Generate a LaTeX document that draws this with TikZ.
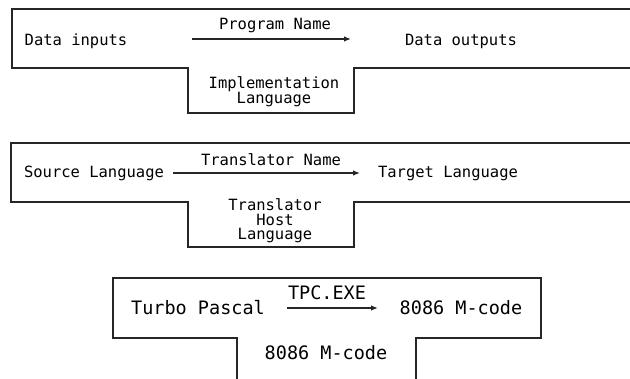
\documentclass[tikz,border=0pt]{standalone}
\usepackage{fontspec}
\newfontfamily\pixmono{DejaVu Sans Mono}
\usetikzlibrary{arrows.meta}
\begin{document}
\begin{tikzpicture}[x=1pt,y=-1pt,
  outline/.style={draw=black!85, line width=1.3pt, line join=miter},
  lbl/.style={font=\pixmono\fontsize{15.5}{14.5}\selectfont, inner sep=0pt, align=center, anchor=base},
  lblbig/.style={font=\pixmono\fontsize{18.5}{16}\selectfont, inner sep=0pt, align=center, anchor=base},
  flow/.style={draw=black!85, line width=1.3pt, -{Latex[length=7pt,width=5.5pt]}}]
\useasboundingbox (0,0) rectangle (630,379);

% ---- box 1 ----
\draw[outline] (630,9) -- (12,9) -- (12,68) -- (188,68) -- (188,113) -- (354,113) -- (354,68) -- (630,68);
\node[lbl] (din) at (76,46) {Data inputs};
\node[lbl] (dout) at (461,46) {Data outputs};
\node[lbl] (pname) at (275,30) {Program Name};
\node[lbl] (impl) at (274,104) {Implementation\\Language};
\coordinate (a1s) at (192,39);
\coordinate (a1e) at (351,39);
\draw[flow] (a1s) -- (a1e);

% ---- box 2 ----
\draw[outline] (630,143) -- (11,143) -- (11,202) -- (188,202) -- (188,247) -- (354,247) -- (354,202) -- (630,202);
\node[lbl] (src) at (94,178) {Source Language};
\node[lbl] (tgt) at (448,178) {Target Language};
\node[lbl] (tname) at (271,166) {Translator Name};
\node[lbl] (host) at (275,240) {Translator\\Host\\Language};
\coordinate (a2s) at (173,173);
\coordinate (a2e) at (360,173);
\draw[flow] (a2s) -- (a2e);

% ---- box 3 ----
\draw[outline] (237,381) -- (237,338) -- (113,338) -- (113,278) -- (541,278) -- (541,338) -- (416,338) -- (416,381);
\node[lblbig] (tp) at (198,315) {Turbo Pascal};
\node[lblbig] (tpc) at (327,300) {TPC.EXE};
\node[lblbig] (mc1) at (461,315) {8086 M-code};
\node[lblbig] (mc2) at (326,360) {8086 M-code};
\coordinate (a3s) at (287,308);
\coordinate (a3e) at (378,308);
\draw[flow] (a3s) -- (a3e);
\end{tikzpicture}
\end{document}
